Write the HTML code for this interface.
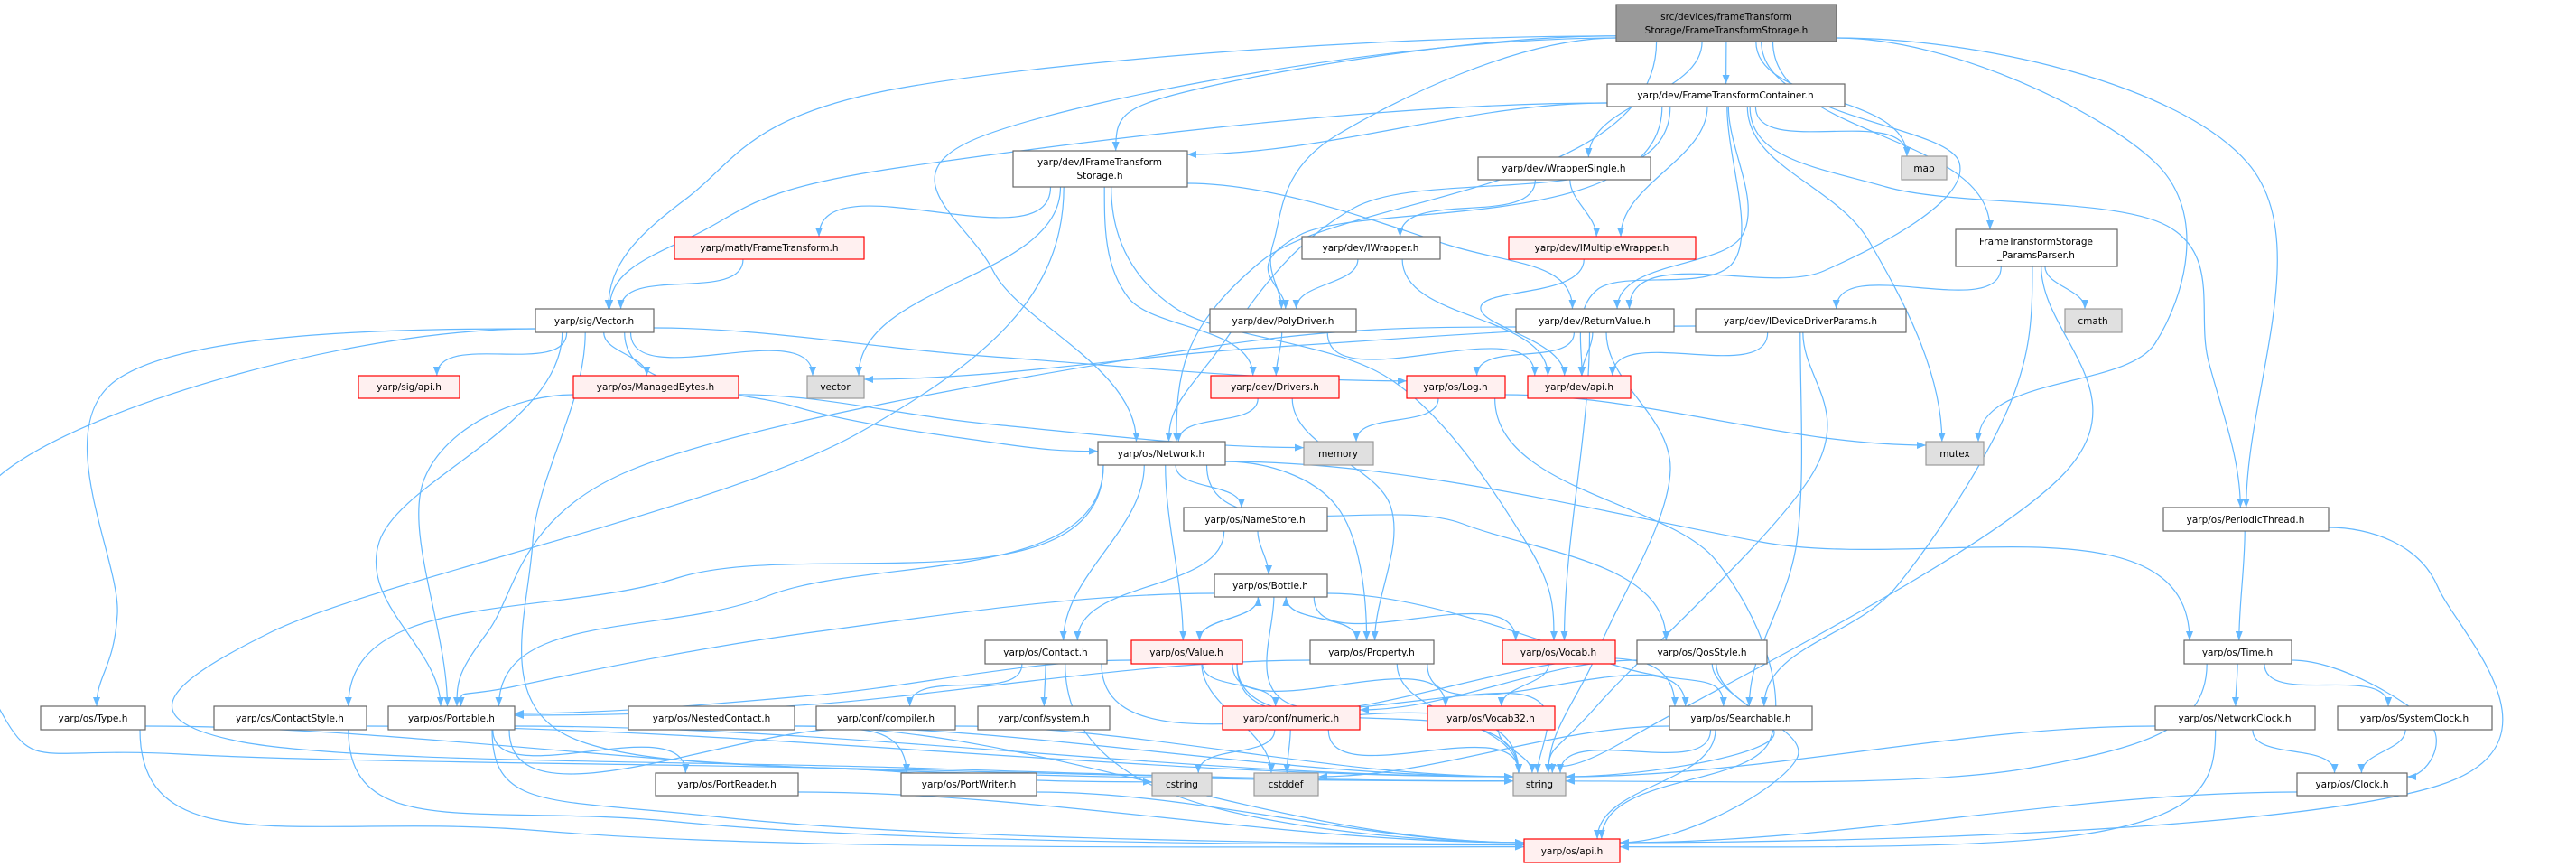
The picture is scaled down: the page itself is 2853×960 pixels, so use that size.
<!DOCTYPE html>
<html><head><meta charset="utf-8">
<style>
html,body{margin:0;padding:0;background:#fff;}
svg{display:block;}
text{font-family:"DejaVu Sans","Liberation Sans",sans-serif;font-size:10.5px;fill:#000;text-anchor:middle;}
.n rect{fill:#fff;stroke:#666;stroke-width:1.2;}
.r rect{fill:#fff0f0;stroke:#f00;stroke-width:1.2;}
.g rect{fill:#e0e0e0;stroke:#999;stroke-width:1.2;}
.m rect{fill:#999;stroke:#666;stroke-width:1.2;}
#edges path{fill:none;stroke:#63b8ff;stroke-width:1.2;}
</style></head>
<body>
<svg id="svg" width="2853" height="960" viewBox="0 0 2853 960" xmlns="http://www.w3.org/2000/svg">
<defs><marker id="ah" markerUnits="userSpaceOnUse" markerWidth="10" markerHeight="8" refX="10" refY="4" orient="auto"><polygon points="0,0 10,4 0,8" fill="#63b8ff"/></marker></defs>
<g id="edges"></g>
<g id="nodes">
<g class="m"><rect x="1790" y="5" width="244" height="41"/><text x="1912" y="22">src/devices/frameTransform</text><text x="1912" y="37">Storage/FrameTransformStorage.h</text></g>
<g class="n"><rect x="1780" y="93" width="263" height="25"/><text x="1911" y="109">yarp/dev/FrameTransformContainer.h</text></g>
<g class="n"><rect x="1122" y="167" width="193" height="40"/><text x="1218" y="183">yarp/dev/IFrameTransform</text><text x="1218" y="198">Storage.h</text></g>
<g class="n"><rect x="1637" y="174" width="191" height="25"/><text x="1732" y="190">yarp/dev/WrapperSingle.h</text></g>
<g class="g"><rect x="2106" y="173" width="50" height="26"/><text x="2131" y="190">map</text></g>
<g class="n"><rect x="2166" y="254" width="179" height="41"/><text x="2255" y="271">FrameTransformStorage</text><text x="2255" y="286">_ParamsParser.h</text></g>
<g class="r"><rect x="747" y="262" width="210" height="25"/><text x="852" y="278">yarp/math/FrameTransform.h</text></g>
<g class="n"><rect x="1442" y="262" width="153" height="25"/><text x="1518" y="278">yarp/dev/IWrapper.h</text></g>
<g class="r"><rect x="1671" y="262" width="207" height="25"/><text x="1774" y="278">yarp/dev/IMultipleWrapper.h</text></g>
<g class="n"><rect x="593" y="342" width="131" height="26"/><text x="658" y="359">yarp/sig/Vector.h</text></g>
<g class="n"><rect x="1340" y="342" width="162" height="26"/><text x="1421" y="359">yarp/dev/PolyDriver.h</text></g>
<g class="n"><rect x="1679" y="342" width="175" height="26"/><text x="1766" y="359">yarp/dev/ReturnValue.h</text></g>
<g class="n"><rect x="1878" y="342" width="233" height="26"/><text x="1994" y="359">yarp/dev/IDeviceDriverParams.h</text></g>
<g class="g"><rect x="2287" y="342" width="63" height="26"/><text x="2318" y="359">cmath</text></g>
<g class="r"><rect x="397" y="416" width="112" height="25"/><text x="453" y="432">yarp/sig/api.h</text></g>
<g class="r"><rect x="635" y="416" width="183" height="25"/><text x="726" y="432">yarp/os/ManagedBytes.h</text></g>
<g class="g"><rect x="894" y="416" width="63" height="25"/><text x="925" y="432">vector</text></g>
<g class="r"><rect x="1341" y="416" width="142" height="25"/><text x="1412" y="432">yarp/dev/Drivers.h</text></g>
<g class="r"><rect x="1558" y="416" width="109" height="25"/><text x="1612" y="432">yarp/os/Log.h</text></g>
<g class="r"><rect x="1692" y="416" width="114" height="25"/><text x="1749" y="432">yarp/dev/api.h</text></g>
<g class="n"><rect x="1216" y="489" width="141" height="26"/><text x="1286" y="506">yarp/os/Network.h</text></g>
<g class="g"><rect x="1444" y="489" width="77" height="26"/><text x="1482" y="506">memory</text></g>
<g class="g"><rect x="2133" y="489" width="64" height="26"/><text x="2165" y="506">mutex</text></g>
<g class="n"><rect x="1311" y="562" width="159" height="26"/><text x="1390" y="579">yarp/os/NameStore.h</text></g>
<g class="n"><rect x="2396" y="562" width="183" height="26"/><text x="2487" y="579">yarp/os/PeriodicThread.h</text></g>
<g class="n"><rect x="1345" y="636" width="125" height="25"/><text x="1407" y="652">yarp/os/Bottle.h</text></g>
<g class="n"><rect x="1091" y="709" width="135" height="26"/><text x="1158" y="726">yarp/os/Contact.h</text></g>
<g class="r"><rect x="1253" y="709" width="123" height="26"/><text x="1314" y="726">yarp/os/Value.h</text></g>
<g class="n"><rect x="1451" y="709" width="137" height="26"/><text x="1519" y="726">yarp/os/Property.h</text></g>
<g class="r"><rect x="1664" y="709" width="125" height="26"/><text x="1726" y="726">yarp/os/Vocab.h</text></g>
<g class="n"><rect x="1813" y="709" width="144" height="26"/><text x="1885" y="726">yarp/os/QosStyle.h</text></g>
<g class="n"><rect x="2419" y="709" width="119" height="26"/><text x="2478" y="726">yarp/os/Time.h</text></g>
<g class="n"><rect x="45" y="782" width="116" height="26"/><text x="103" y="799">yarp/os/Type.h</text></g>
<g class="n"><rect x="237" y="782" width="169" height="26"/><text x="321" y="799">yarp/os/ContactStyle.h</text></g>
<g class="n"><rect x="430" y="782" width="140" height="26"/><text x="500" y="799">yarp/os/Portable.h</text></g>
<g class="n"><rect x="696" y="782" width="184" height="26"/><text x="788" y="799">yarp/os/NestedContact.h</text></g>
<g class="n"><rect x="904" y="782" width="154" height="26"/><text x="981" y="799">yarp/conf/compiler.h</text></g>
<g class="n"><rect x="1083" y="782" width="146" height="26"/><text x="1156" y="799">yarp/conf/system.h</text></g>
<g class="r"><rect x="1354" y="782" width="152" height="26"/><text x="1430" y="799">yarp/conf/numeric.h</text></g>
<g class="r"><rect x="1581" y="782" width="141" height="26"/><text x="1651" y="799">yarp/os/Vocab32.h</text></g>
<g class="n"><rect x="1849" y="782" width="158" height="26"/><text x="1928" y="799">yarp/os/Searchable.h</text></g>
<g class="n"><rect x="2387" y="782" width="177" height="26"/><text x="2475" y="799">yarp/os/NetworkClock.h</text></g>
<g class="n"><rect x="2589" y="782" width="171" height="26"/><text x="2674" y="799">yarp/os/SystemClock.h</text></g>
<g class="n"><rect x="726" y="856" width="158" height="25"/><text x="805" y="872">yarp/os/PortReader.h</text></g>
<g class="n"><rect x="998" y="856" width="150" height="25"/><text x="1073" y="872">yarp/os/PortWriter.h</text></g>
<g class="g"><rect x="1276" y="856" width="66" height="25"/><text x="1309" y="872">cstring</text></g>
<g class="g"><rect x="1389" y="856" width="71" height="25"/><text x="1424" y="872">cstddef</text></g>
<g class="g"><rect x="1676" y="856" width="58" height="25"/><text x="1705" y="872">string</text></g>
<g class="n"><rect x="2544" y="856" width="122" height="25"/><text x="2605" y="872">yarp/os/Clock.h</text></g>
<g class="r"><rect x="1688" y="929" width="106" height="26"/><text x="1741" y="946">yarp/os/api.h</text></g>
</g>
</svg>
<script>
var B={main:[1790,5,2034,46],ftc:[1780,93,2043,118],ifts:[1122,167,1315,207],ws:[1637,174,1828,199],map:[2106,173,2156,199],pp:[2166,254,2345,295],ft:[747,262,957,287],iw:[1442,262,1595,287],imw:[1671,262,1878,287],vec:[593,342,724,368],pd:[1340,342,1502,368],rv:[1679,342,1854,368],iddp:[1878,342,2111,368],cmath:[2287,342,2350,368],sigapi:[397,416,509,441],mb:[635,416,818,441],vector:[894,416,957,441],drv:[1341,416,1483,441],log:[1558,416,1667,441],devapi:[1692,416,1806,441],net:[1216,489,1357,515],memory:[1444,489,1521,515],mutex:[2133,489,2197,515],ns:[1311,562,1470,588],pt:[2396,562,2579,588],bottle:[1345,636,1470,661],contact:[1091,709,1226,735],value:[1253,709,1376,735],prop:[1451,709,1588,735],vocab:[1664,709,1789,735],qos:[1813,709,1957,735],time:[2419,709,2538,735],type:[45,782,161,808],cstyle:[237,782,406,808],portable:[430,782,570,808],nested:[696,782,880,808],compiler:[904,782,1058,808],system:[1083,782,1229,808],numeric:[1354,782,1506,808],vocab32:[1581,782,1722,808],search:[1849,782,2007,808],nclock:[2387,782,2564,808],sclock:[2589,782,2760,808],preader:[726,856,884,881],pwriter:[998,856,1148,881],cstring:[1276,856,1342,881],cstddef:[1389,856,1460,881],string:[1676,856,1734,881],clock:[2544,856,2666,881],osapi:[1688,929,1794,955]};
var E=[
['main','vec','l','t',[[1000,97],[760,220]]],
['main','ifts','l','t',[[1333,97]]],
['main','net','l','t',[[1090,150],[1100,300]]],
['main','net','b','t',[[1396,290]]],
['main','pd','l','t',[[1480,150],[1410,270]]],
['main','ws'],['main','ftc'],['main','map'],
['main','rv','b','t',[[2170,180],[2020,300]]],
['main','pp'],
['main','mutex','r','t',[[2387,180],[2387,380]]],
['main','pt','r','t',[[2489,180]]],
['ftc','ifts','l','r'],
['ftc','vec','l','t',[[1000,185],[770,260]]],
['ftc','net','b','t',[[1500,230],[1340,400]]],
['ftc','pd','b','t',[[1440,260]]],
['ftc','imw'],
['ftc','rv','b','t',[[1930,260]]],
['ftc','devapi','b','t',[[1920,290],[1770,320]]],
['ftc','map'],
['ftc','mutex','b','t',[[2070,267]]],
['ftc','pt','b','t',[[2089,207],[2400,250],[2446,400]]],
['ifts','ft'],['ifts','vector'],
['ifts','rv','r','t',[[1600,270]]],
['ifts','drv','b','t',[[1250,330]]],
['ifts','vocab','b','t',[[1300,340],[1540,420],[1690,600]]],
['ifts','string','b','l',[[950,480],[300,700],[260,820],[1000,850]]],
['ws','iw'],['ws','imw'],
['iw','pd'],['iw','devapi'],
['imw','devapi','b','t',[[1640,340]]],
['pd','drv'],['pd','devapi'],
['rv','log'],['rv','devapi'],['rv','vocab'],
['rv','string','b','t',[[1850,520],[1770,720]]],
['rv','portable','l','t',[[1300,390],[700,520],[540,700]]],
['iddp','devapi'],
['iddp','vector','l','r',[[1400,385]]],
['iddp','search','b','t',[[1990,600]]],
['iddp','string','b','t',[[2010,520],[1770,780]]],
['pp','iddp'],['pp','cmath'],
['pp','search','b','t',[[2225,450],[2100,650]]],
['pp','string','b','t',[[2290,520],[1800,820]]],
['ft','vec'],
['vec','sigapi'],['vec','mb'],['vec','vector'],
['vec','log','r','l',[[1100,395]]],
['vec','net','b','l',[[880,450],[1100,490]]],
['vec','portable','b','t',[[420,600]]],
['vec','type','l','t',[[130,420],[130,680]]],
['vec','string','l','l',[[8,520],[8,800],[200,835],[900,850]]],
['vec','cstring','b','l',[[590,600],[620,810],[1000,855]]],
['mb','portable','l','t',[[470,530]]],
['mb','memory','r','l',[[1100,470]]],
['net','cstyle','b','t',[[750,640]]],
['net','portable','b','t',[[850,660]]],
['net','contact'],['net','ns'],['net','value'],
['net','prop','r','t',[[1480,560]]],
['net','qos','b','t',[[1620,580]]],
['net','time','r','t',[[1950,600]]],
['drv','net'],
['drv','prop','b','t',[[1540,560]]],
['log','memory'],['log','mutex','r','l'],
['log','osapi','b','t',[[1900,620],[1960,820]]],
['ns','contact'],['ns','bottle'],
['bottle','value'],['bottle','prop'],['bottle','vocab'],
['bottle','search','r','t',[[1800,740]]],
['bottle','string','b','t',[[1430,780],[1690,770]]],
['bottle','portable','l','t',[[900,700],[570,760]]],
['value','bottle','t','b'],['value','numeric'],['value','vocab32'],['value','string'],['value','cstddef'],['value','search'],
['value','portable','l','r',[[900,770]]],
['prop','bottle','t','b'],['prop','search'],['prop','string'],
['prop','portable','l','r',[[900,780]]],
['vocab','vocab32'],
['qos','numeric','l','r'],
['qos','string','b','r',[[1960,820]]],
['qos','osapi','b','r',[[1990,840]]],
['contact','compiler'],['contact','system'],['contact','string'],
['contact','osapi','b','l',[[1300,880]]],
['numeric','cstring'],['numeric','cstddef'],['numeric','string'],
['vocab32','string'],
['search','cstddef','l','r'],['search','string'],['search','osapi'],
['portable','preader'],['portable','pwriter'],
['portable','osapi','b','l',[[800,905]]],
['portable','string','r','l'],
['type','osapi','b','l',[[600,920]]],
['type','string','r','l',[[900,850]]],
['cstyle','osapi','b','l',[[750,910]]],
['cstyle','string','r','l'],
['nested','string','r','l'],['nested','osapi','r','l'],
['compiler','string','r','l'],
['preader','osapi','r','l'],['pwriter','osapi','r','l'],
['time','nclock'],['time','sclock'],
['time','clock','r','r',[[2690,800]]],
['time','string','b','r',[[2250,850]]],
['nclock','clock'],['nclock','string','l','r'],
['nclock','osapi','b','r',[[2330,920]]],
['sclock','clock'],['clock','osapi','l','r'],
['pt','time'],
['pt','osapi','r','r',[[2700,650],[2700,870]]]
];
function c(b){return[(b[0]+b[2])/2,(b[1]+b[3])/2];}
function cl(v,a,b){return Math.max(a,Math.min(b,v));}
function anchor(b,side,other){var m=c(b);
 if(side=='b')return[cl(m[0]+(other[0]-m[0])*0.15,b[0]+6,b[2]-6),b[3]];
 if(side=='t')return[cl(m[0]+(other[0]-m[0])*0.15,b[0]+6,b[2]-6),b[1]];
 if(side=='l')return[b[0],cl(m[1]+(other[1]-m[1])*0.2,b[1]+4,b[3]-4)];
 return[b[2],cl(m[1]+(other[1]-m[1])*0.2,b[1]+4,b[3]-4)];}
var D0={b:[0,1],t:[0,-1],l:[-1,0],r:[1,0]},D1={t:[0,1],b:[0,-1],l:[1,0],r:[-1,0]};
var out='';
E.forEach(function(e){var s=B[e[0]],t=B[e[1]],ss=e[2]||'b',ts=e[3]||'t',w=e[4]||[];
 var p0=anchor(s,ss,w.length?w[0]:c(t)),pn=anchor(t,ts,w.length?w[w.length-1]:c(s));
 var P=[p0].concat(w,[pn]);var n=P.length,M=[];
 for(var i=0;i<n;i++){
  if(i==0){var L=Math.hypot(P[1][0]-P[0][0],P[1][1]-P[0][1]);M.push([D0[ss][0]*L,D0[ss][1]*L]);}
  else if(i==n-1){var L=Math.hypot(P[i][0]-P[i-1][0],P[i][1]-P[i-1][1]);M.push([D1[ts][0]*L,D1[ts][1]*L]);}
  else M.push([(P[i+1][0]-P[i-1][0])/2,(P[i+1][1]-P[i-1][1])/2]);}
 var d='M'+P[0][0].toFixed(1)+','+P[0][1].toFixed(1);
 for(var i=0;i<n-1;i++){d+=' C'+(P[i][0]+M[i][0]/3).toFixed(1)+','+(P[i][1]+M[i][1]/3).toFixed(1)+' '+(P[i+1][0]-M[i+1][0]/3).toFixed(1)+','+(P[i+1][1]-M[i+1][1]/3).toFixed(1)+' '+P[i+1][0].toFixed(1)+','+P[i+1][1].toFixed(1);}
 out+='<path d="'+d+'" marker-end="url(#ah)"/>';});
document.getElementById('edges').innerHTML=out;
</script>
</body></html>
